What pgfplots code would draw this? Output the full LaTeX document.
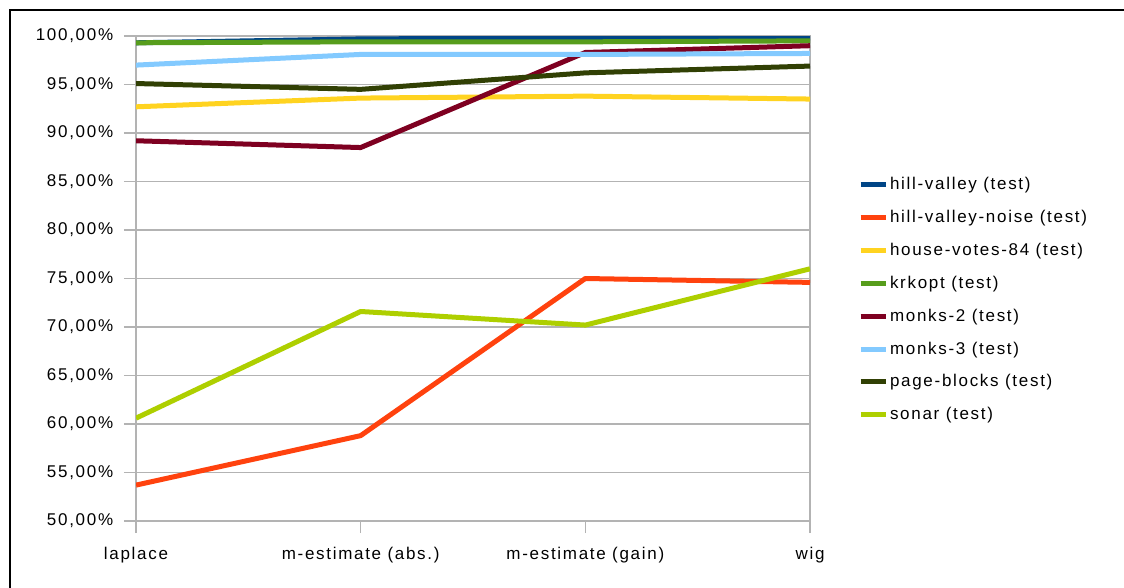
\documentclass[border=0pt]{standalone}
\usepackage{pgfplots}
\pgfplotsset{compat=1.18}
\usepackage{fontspec}
\setmainfont[LetterSpace=10]{Liberation Sans}

\definecolor{cHill}{HTML}{004586}
\definecolor{cNoise}{HTML}{FF420E}
\definecolor{cHouse}{HTML}{FFD320}
\definecolor{cKrk}{HTML}{579D1C}
\definecolor{cMonksTwo}{HTML}{7E0021}
\definecolor{cMonksThree}{HTML}{83CAFF}
\definecolor{cPage}{HTML}{314004}
\definecolor{cSonar}{HTML}{AECF00}
\definecolor{cGrid}{HTML}{B3B3B3}

\begin{document}
\fontsize{17pt}{20pt}\selectfont
\begin{tikzpicture}[x=1pt,y=1pt]
\useasboundingbox (0,0) rectangle (1124,-588);
% chart frame (left and top edges)
\draw[line width=2.5pt,black] (10,-588) -- (10,-10) -- (1124,-10);
\begin{axis}[
  at={(136pt,-521pt)}, anchor=south west,
  scale only axis, width=674pt, height=485pt,
  xmin=0, xmax=3, ymin=50, ymax=100,
  xtick={0,1,2,3},
  xticklabels={laplace, m-estimate (abs.), m-estimate (gain), wig},
  ytick={50,55,...,100},
  yticklabel={\pgfmathprintnumber[fixed,fixed zerofill,precision=2,use comma]{\tick}\%},
  /pgf/number format/assume math mode=true,
  tick align=outside, major tick length=12pt,
  xtick pos=bottom, ytick pos=left,
  tick style={cGrid, line width=1.5pt},
  axis line style={cGrid, line width=1.5pt},
  ymajorgrids, grid style={cGrid, line width=1.5pt},
  yticklabel style={xshift=-5pt},
  xticklabel style={yshift=-8pt},
  legend cell align=left,
  legend style={at={(1.071,0.709)}, anchor=north west, draw=none, fill=none,
    row sep=18pt, inner xsep=0pt, inner ysep=0pt,
    nodes={inner xsep=2pt, inner ysep=0pt}},
  legend image code/.code={\draw[#1, line width=5pt] (0pt,0pt) -- (25pt,0pt);},
  every axis plot/.append style={line width=5pt, line join=round, mark=none},
]
\addplot[cHill] coordinates {(0,99.3) (1,99.7) (2,99.8) (3,99.8)};
\addlegendentry{hill-valley (test)}
\addplot[cNoise] coordinates {(0,53.7) (1,58.8) (2,75.0) (3,74.6)};
\addlegendentry{hill-valley-noise (test)}
\addplot[cHouse] coordinates {(0,92.7) (1,93.6) (2,93.8) (3,93.5)};
\addlegendentry{house-votes-84 (test)}
\addplot[cKrk] coordinates {(0,99.3) (1,99.4) (2,99.4) (3,99.5)};
\addlegendentry{krkopt (test)}
\addplot[cMonksTwo] coordinates {(0,89.2) (1,88.5) (2,98.3) (3,99.0)};
\addlegendentry{monks-2 (test)}
\addplot[cMonksThree] coordinates {(0,97.0) (1,98.1) (2,98.1) (3,98.2)};
\addlegendentry{monks-3 (test)}
\addplot[cPage] coordinates {(0,95.1) (1,94.5) (2,96.2) (3,96.9)};
\addlegendentry{page-blocks (test)}
\addplot[cSonar] coordinates {(0,60.6) (1,71.6) (2,70.2) (3,76.0)};
\addlegendentry{sonar (test)}
\end{axis}
\end{tikzpicture}
\end{document}
